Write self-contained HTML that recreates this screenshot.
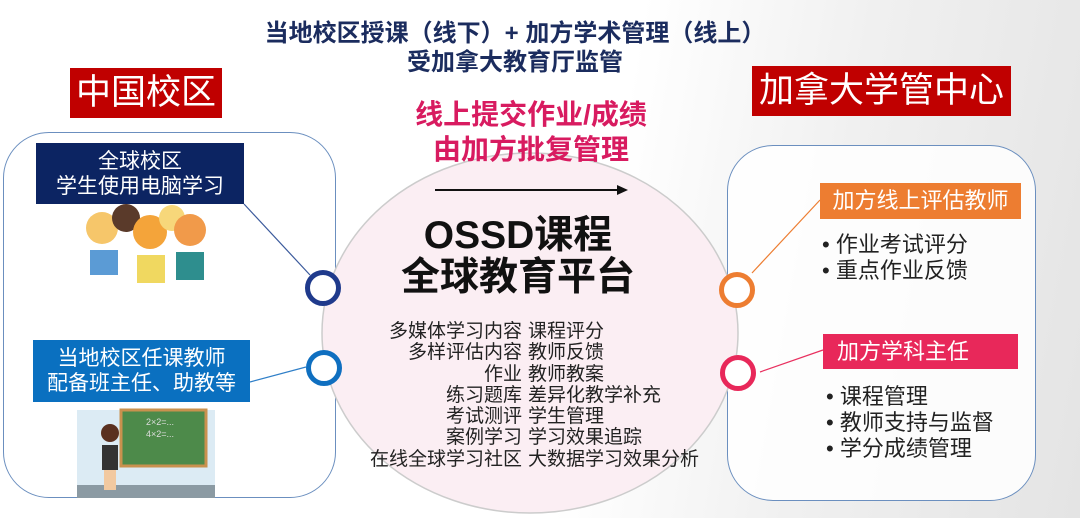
<!DOCTYPE html>
<html><head><meta charset="utf-8">
<style>
*{margin:0;padding:0;box-sizing:border-box}
body{width:1080px;height:518px;position:relative;overflow:hidden;background:linear-gradient(100deg,#fff 0%,#fff 55%,#f0f0f0 75%,#e4e4e4 100%);font-family:"Liberation Sans","Noto Sans CJK SC",sans-serif}
.a{position:absolute;white-space:nowrap}
.t{color:#1b2c5e;font-weight:bold;font-size:24px;text-align:center;left:0;width:1030px}
.red{background:#c00000;color:#fff;font-size:35px;line-height:50px;text-align:center}
.box{border:1.5px solid #6b8fbf;border-radius:46px;background:rgba(255,255,255,0.85)}
.lbl{color:#fff;font-size:21px;line-height:25px;text-align:center}
.ring{width:36px;height:36px;border-radius:50%;border:5px solid;background:#fff}
.bl{font-size:22px;line-height:26px;color:#222}
.c{font-size:19px;line-height:21.3px;color:#222}
</style></head><body>
<div class="a t" style="top:13px">当地校区授课（线下）+ 加方学术管理（线上）</div>
<div class="a t" style="top:42px">受加拿大教育厅监管</div>
<div class="a red" style="left:70px;top:68px;width:152px">中国校区</div>
<div class="a red" style="left:752px;top:66px;width:259px">加拿大学管中心</div>

<div class="a box" style="left:3px;top:132px;width:333px;height:366px"></div>
<div class="a box" style="left:727px;top:145px;width:309px;height:356px"></div>

<svg class="a" style="left:0;top:0" width="1080" height="518">
<ellipse cx="530" cy="333" rx="208" ry="180" fill="#fbeef3" stroke="#cccccc" stroke-width="1.5"/>
<line x1="244" y1="204" x2="310" y2="275" stroke="#3b5a9c" stroke-width="1.2"/>
<line x1="250" y1="382" x2="306" y2="367" stroke="#2f7fc8" stroke-width="1.2"/>
<line x1="820" y1="200" x2="752" y2="273" stroke="#ed7d31" stroke-width="1.2"/>
<line x1="823" y1="350" x2="760" y2="372" stroke="#e8305f" stroke-width="1.2"/>
<line x1="435" y1="190" x2="618" y2="190" stroke="#111" stroke-width="2"/>
<polygon points="628,190 617,185 617,195" fill="#111"/>
<rect x="77" y="205" width="130" height="90" fill="#fff"/>
<circle cx="102" cy="228" r="16" fill="#f6c66a"/><circle cx="126" cy="218" r="14" fill="#5a3a2a"/>
<circle cx="150" cy="232" r="17" fill="#f4a43a"/><circle cx="172" cy="218" r="13" fill="#f7d77a"/>
<circle cx="190" cy="230" r="16" fill="#f19a4a"/>
<rect x="90" y="250" width="28" height="25" fill="#5b9bd5"/><rect x="137" y="255" width="28" height="28" fill="#f0d860"/>
<rect x="176" y="252" width="28" height="28" fill="#2e8e8e"/>
<rect x="77" y="410" width="138" height="88" fill="#dcebf4"/>
<rect x="77" y="485" width="138" height="13" fill="#8b9aa3"/>
<rect x="121" y="410" width="85" height="56" fill="#4d8a4a" stroke="#c9914e" stroke-width="3"/>
<text x="146" y="425" font-size="9" fill="#ddd" font-family="Liberation Sans">2×2=...</text>
<text x="146" y="437" font-size="9" fill="#ddd" font-family="Liberation Sans">4×2=...</text>
<circle cx="110" cy="433" r="9" fill="#5a3020"/><rect x="102" y="445" width="16" height="25" fill="#333"/>
<rect x="104" y="470" width="12" height="20" fill="#f2c9a0"/>
</svg>

<div class="a lbl" style="left:36px;top:143px;width:208px;height:61px;background:#0c2462;padding-top:6px">全球校区<br>学生使用电脑学习</div>
<div class="a lbl" style="left:33px;top:340px;width:217px;height:62px;background:#0a70c0;padding-top:6px">当地校区任课教师<br>配备班主任、助教等</div>

<div class="a ring" style="left:305px;top:270px;border-color:#1f3a8c"></div>
<div class="a ring" style="left:306px;top:350px;border-color:#0f6fc0"></div>
<div class="a ring" style="left:719px;top:272px;border-color:#ed7d31"></div>
<div class="a ring" style="left:720px;top:355px;border-color:#e8285a"></div>

<div class="a lbl" style="left:820px;top:183px;width:201px;height:36px;line-height:36px;background:#ed7d31;font-size:22px">加方线上评估教师</div>
<div class="a lbl" style="left:823px;top:334px;width:195px;height:35px;line-height:35px;background:#e8285a;font-size:22px;text-align:left;padding-left:14px">加方学科主任</div>
<div class="a bl" style="left:822px;top:232px">•&nbsp;作业考试评分<br>•&nbsp;重点作业反馈</div>
<div class="a bl" style="left:826px;top:384px">•&nbsp;课程管理<br>•&nbsp;教师支持与监督<br>•&nbsp;学分成绩管理</div>

<div class="a" style="left:0;width:1062px;top:97px;text-align:center;color:#d81b60;font-weight:bold;font-size:28px;line-height:35px">线上提交作业/成绩<br>由加方批复管理</div>
<div class="a" style="left:0;width:1036px;top:215px;text-align:center;color:#111;font-weight:bold;font-size:39px;line-height:42px">OSSD课程<br>全球教育平台</div>
<div class="a c" style="left:300px;width:222px;top:321px;text-align:right">多媒体学习内容<br>多样评估内容<br>作业<br>练习题库<br>考试测评<br>案例学习<br>在线全球学习社区</div>
<div class="a c" style="left:528px;top:321px">课程评分<br>教师反馈<br>教师教案<br>差异化教学补充<br>学生管理<br>学习效果追踪<br>大数据学习效果分析</div>
</body></html>
